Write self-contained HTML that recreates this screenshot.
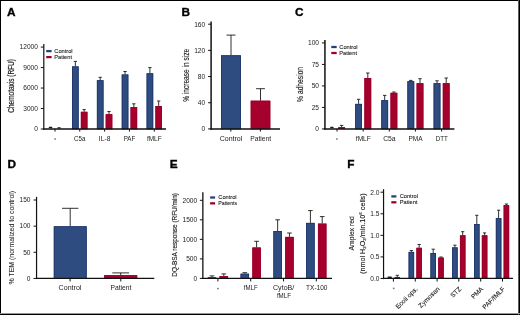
<!DOCTYPE html>
<html><head><meta charset="utf-8"><title>Figure</title>
<style>
html,body{margin:0;padding:0;background:#fff;}
body{width:520px;height:315px;overflow:hidden;}
.fig{position:relative;width:520px;height:315px;box-sizing:border-box;border:1px solid #000;background:#fff;}
svg{position:absolute;left:-1px;top:-1px;font-family:"Liberation Sans", sans-serif;will-change:transform;}
</style></head>
<body><div class="fig">
<svg width="520" height="315" viewBox="0 0 520 315">
<rect x="518" y="0" width="1" height="315" fill="#5e5e5e"/>
<rect x="0" y="313" width="520" height="1" fill="#969696"/>
<text x="6.95" y="15.6" font-size="11.8" font-weight="bold" fill="#000" stroke="#000" stroke-width="0.35">A</text>
<text x="181.6" y="15.5" font-size="11.8" font-weight="bold" fill="#000" stroke="#000" stroke-width="0.35">B</text>
<text x="295.1" y="15.5" font-size="11.8" font-weight="bold" fill="#000" stroke="#000" stroke-width="0.35">C</text>
<text x="7.4" y="167.8" font-size="11.8" font-weight="bold" fill="#000" stroke="#000" stroke-width="0.35">D</text>
<text x="169.85" y="167.7" font-size="11.8" font-weight="bold" fill="#000" stroke="#000" stroke-width="0.35">E</text>
<text x="347.3" y="167.7" font-size="11.8" font-weight="bold" fill="#000" stroke="#000" stroke-width="0.35">F</text>
<line x1="75.35" y1="66.4" x2="75.35" y2="61.4" stroke="#1a1a1a" stroke-width="0.9"/>
<line x1="73.7" y1="61.4" x2="77" y2="61.4" stroke="#1a1a1a" stroke-width="0.9"/>
<rect x="72.05" y="66.4" width="6.6" height="62.6" fill="#2f4c81"/>
<rect x="72.45" y="66.8" width="5.8" height="62.2" fill="none" stroke="#1c3468" stroke-width="0.8"/>
<line x1="84.15" y1="111.8" x2="84.15" y2="109.6" stroke="#1a1a1a" stroke-width="0.9"/>
<line x1="82.5" y1="109.6" x2="85.8" y2="109.6" stroke="#1a1a1a" stroke-width="0.9"/>
<rect x="80.85" y="111.8" width="6.6" height="17.2" fill="#a5012c"/>
<rect x="81.25" y="112.2" width="5.8" height="16.8" fill="none" stroke="#98002a" stroke-width="0.8"/>
<line x1="100.2" y1="80.25" x2="100.2" y2="77.3" stroke="#1a1a1a" stroke-width="0.9"/>
<line x1="98.55" y1="77.3" x2="101.85" y2="77.3" stroke="#1a1a1a" stroke-width="0.9"/>
<rect x="96.9" y="80.25" width="6.6" height="48.75" fill="#2f4c81"/>
<rect x="97.3" y="80.65" width="5.8" height="48.35" fill="none" stroke="#1c3468" stroke-width="0.8"/>
<line x1="109" y1="114.2" x2="109" y2="111.5" stroke="#1a1a1a" stroke-width="0.9"/>
<line x1="107.35" y1="111.5" x2="110.65" y2="111.5" stroke="#1a1a1a" stroke-width="0.9"/>
<rect x="105.7" y="114.2" width="6.6" height="14.8" fill="#a5012c"/>
<rect x="106.1" y="114.6" width="5.8" height="14.4" fill="none" stroke="#98002a" stroke-width="0.8"/>
<line x1="125.05" y1="74.5" x2="125.05" y2="71.5" stroke="#1a1a1a" stroke-width="0.9"/>
<line x1="123.4" y1="71.5" x2="126.7" y2="71.5" stroke="#1a1a1a" stroke-width="0.9"/>
<rect x="121.75" y="74.5" width="6.6" height="54.5" fill="#2f4c81"/>
<rect x="122.15" y="74.9" width="5.8" height="54.1" fill="none" stroke="#1c3468" stroke-width="0.8"/>
<line x1="133.85" y1="107.1" x2="133.85" y2="103.8" stroke="#1a1a1a" stroke-width="0.9"/>
<line x1="132.2" y1="103.8" x2="135.5" y2="103.8" stroke="#1a1a1a" stroke-width="0.9"/>
<rect x="130.55" y="107.1" width="6.6" height="21.9" fill="#a5012c"/>
<rect x="130.95" y="107.5" width="5.8" height="21.5" fill="none" stroke="#98002a" stroke-width="0.8"/>
<line x1="149.9" y1="73.3" x2="149.9" y2="67.6" stroke="#1a1a1a" stroke-width="0.9"/>
<line x1="148.25" y1="67.6" x2="151.55" y2="67.6" stroke="#1a1a1a" stroke-width="0.9"/>
<rect x="146.6" y="73.3" width="6.6" height="55.7" fill="#2f4c81"/>
<rect x="147" y="73.7" width="5.8" height="55.3" fill="none" stroke="#1c3468" stroke-width="0.8"/>
<line x1="158.7" y1="106" x2="158.7" y2="101" stroke="#1a1a1a" stroke-width="0.9"/>
<line x1="157.05" y1="101" x2="160.35" y2="101" stroke="#1a1a1a" stroke-width="0.9"/>
<rect x="155.4" y="106" width="6.6" height="23" fill="#a5012c"/>
<rect x="155.8" y="106.4" width="5.8" height="22.6" fill="none" stroke="#98002a" stroke-width="0.8"/>
<line x1="43.8" y1="44" x2="43.8" y2="129.78" stroke="#111" stroke-width="1.2"/>
<line x1="43.2" y1="129" x2="166" y2="129" stroke="#111" stroke-width="1.55"/>
<line x1="40.8" y1="129" x2="43.8" y2="129" stroke="#111" stroke-width="1"/>
<text x="37.9" y="131.3" font-size="6.6" text-anchor="end" font-weight="normal" fill="#222">0</text>
<line x1="40.8" y1="108.53" x2="43.8" y2="108.53" stroke="#111" stroke-width="1"/>
<text x="37.9" y="110.83" font-size="6.6" text-anchor="end" font-weight="normal" fill="#222">3000</text>
<line x1="40.8" y1="88.05" x2="43.8" y2="88.05" stroke="#111" stroke-width="1"/>
<text x="37.9" y="90.35" font-size="6.6" text-anchor="end" font-weight="normal" fill="#222">6000</text>
<line x1="40.8" y1="67.57" x2="43.8" y2="67.57" stroke="#111" stroke-width="1"/>
<text x="37.9" y="69.87" font-size="6.6" text-anchor="end" font-weight="normal" fill="#222">9000</text>
<line x1="40.8" y1="47.1" x2="43.8" y2="47.1" stroke="#111" stroke-width="1"/>
<text x="37.9" y="49.4" font-size="6.6" text-anchor="end" font-weight="normal" fill="#222">12000</text>
<line x1="55" y1="129" x2="55" y2="131.6" stroke="#111" stroke-width="1"/>
<line x1="79.75" y1="129" x2="79.75" y2="131.6" stroke="#111" stroke-width="1"/>
<line x1="104.6" y1="129" x2="104.6" y2="131.6" stroke="#111" stroke-width="1"/>
<line x1="129.45" y1="129" x2="129.45" y2="131.6" stroke="#111" stroke-width="1"/>
<line x1="154.3" y1="129" x2="154.3" y2="131.6" stroke="#111" stroke-width="1"/>
<rect x="46.2" y="49.98" width="5.4" height="2.25" fill="#24407a"/>
<rect x="46.2" y="55.98" width="5.4" height="2.25" fill="#9c0029"/>
<text x="54.3" y="53" font-size="5.7" text-anchor="start" font-weight="normal" fill="#222" stroke="#222" stroke-width="0.1">Control</text>
<text x="54.3" y="59" font-size="5.7" text-anchor="start" font-weight="normal" fill="#222" stroke="#222" stroke-width="0.1">Patient</text>
<rect x="48.75" y="126.85" width="3.6" height="1.5" rx="0.75" fill="#151515"/>
<rect x="57.4" y="127.3" width="3.4" height="1.2" rx="0.6" fill="#151515"/>
<text x="79.75" y="141" font-size="6.9" text-anchor="middle" font-weight="normal" fill="#222" textLength="11.4" lengthAdjust="spacingAndGlyphs">C5a</text>
<text x="104.6" y="141" font-size="6.9" text-anchor="middle" font-weight="normal" fill="#222" textLength="11.5" lengthAdjust="spacingAndGlyphs">IL-8</text>
<text x="129.45" y="141" font-size="6.9" text-anchor="middle" font-weight="normal" fill="#222" textLength="11.6" lengthAdjust="spacingAndGlyphs">PAF</text>
<text x="154.3" y="141" font-size="6.9" text-anchor="middle" font-weight="normal" fill="#222" textLength="14.8" lengthAdjust="spacingAndGlyphs">fMLF</text>
<rect x="54.3" y="138.25" width="1.6" height="1.5" fill="#777"/>
<text x="0" y="0" font-size="8.2" text-anchor="middle" fill="#222" stroke="#222" stroke-width="0.2" transform="translate(14.2,85.9) rotate(-90)" textLength="53.6" lengthAdjust="spacingAndGlyphs">Chemotaxis (RFU)</text>
<line x1="231" y1="55.3" x2="231" y2="35.1" stroke="#1a1a1a" stroke-width="0.9"/>
<line x1="226.5" y1="35.1" x2="235.5" y2="35.1" stroke="#1a1a1a" stroke-width="0.9"/>
<rect x="221" y="55.3" width="20" height="73.6" fill="#2f4c81"/>
<rect x="221.4" y="55.7" width="19.2" height="73.2" fill="none" stroke="#1c3468" stroke-width="0.8"/>
<line x1="260.5" y1="100.7" x2="260.5" y2="88.7" stroke="#1a1a1a" stroke-width="0.9"/>
<line x1="256.1" y1="88.7" x2="264.9" y2="88.7" stroke="#1a1a1a" stroke-width="0.9"/>
<rect x="250.7" y="100.7" width="19.6" height="28.2" fill="#a5012c"/>
<rect x="251.1" y="101.1" width="18.8" height="27.8" fill="none" stroke="#98002a" stroke-width="0.8"/>
<line x1="211.1" y1="21.5" x2="211.1" y2="129.65" stroke="#111" stroke-width="1.5"/>
<line x1="210.35" y1="128.9" x2="280" y2="128.9" stroke="#111" stroke-width="1.5"/>
<line x1="208.1" y1="128.9" x2="211.1" y2="128.9" stroke="#111" stroke-width="1"/>
<text x="205.2" y="131.2" font-size="6.6" text-anchor="end" font-weight="normal" fill="#222">0</text>
<line x1="208.1" y1="102.73" x2="211.1" y2="102.73" stroke="#111" stroke-width="1"/>
<text x="205.2" y="105.03" font-size="6.6" text-anchor="end" font-weight="normal" fill="#222">40</text>
<line x1="208.1" y1="76.55" x2="211.1" y2="76.55" stroke="#111" stroke-width="1"/>
<text x="205.2" y="78.85" font-size="6.6" text-anchor="end" font-weight="normal" fill="#222">80</text>
<line x1="208.1" y1="50.38" x2="211.1" y2="50.38" stroke="#111" stroke-width="1"/>
<text x="205.2" y="52.67" font-size="6.6" text-anchor="end" font-weight="normal" fill="#222">120</text>
<line x1="208.1" y1="24.2" x2="211.1" y2="24.2" stroke="#111" stroke-width="1"/>
<text x="205.2" y="26.5" font-size="6.6" text-anchor="end" font-weight="normal" fill="#222">160</text>
<line x1="230.8" y1="128.9" x2="230.8" y2="131.5" stroke="#111" stroke-width="1"/>
<line x1="260.4" y1="128.9" x2="260.4" y2="131.5" stroke="#111" stroke-width="1"/>
<text x="231" y="140.5" font-size="7" text-anchor="middle" font-weight="normal" fill="#222" textLength="22.7" lengthAdjust="spacingAndGlyphs">Control</text>
<text x="260.75" y="140.5" font-size="7" text-anchor="middle" font-weight="normal" fill="#222" textLength="20.9" lengthAdjust="spacingAndGlyphs">Patient</text>
<text x="0" y="0" font-size="8.3" text-anchor="middle" fill="#222" stroke="#222" stroke-width="0.15" transform="translate(189,75.35) rotate(-90)" textLength="52.9" lengthAdjust="spacingAndGlyphs">% increase in size</text>
<line x1="341.6" y1="127" x2="341.6" y2="125.4" stroke="#1a1a1a" stroke-width="0.9"/>
<line x1="339.9" y1="125.4" x2="343.3" y2="125.4" stroke="#1a1a1a" stroke-width="0.9"/>
<rect x="338.2" y="127" width="6.8" height="1.93" fill="#a5012c"/>
<line x1="358.6" y1="103.9" x2="358.6" y2="99.3" stroke="#1a1a1a" stroke-width="0.9"/>
<line x1="356.9" y1="99.3" x2="360.3" y2="99.3" stroke="#1a1a1a" stroke-width="0.9"/>
<rect x="355.2" y="103.9" width="6.8" height="25.03" fill="#2f4c81"/>
<rect x="355.6" y="104.3" width="6" height="24.63" fill="none" stroke="#1c3468" stroke-width="0.8"/>
<line x1="367.8" y1="78" x2="367.8" y2="73" stroke="#1a1a1a" stroke-width="0.9"/>
<line x1="366.1" y1="73" x2="369.5" y2="73" stroke="#1a1a1a" stroke-width="0.9"/>
<rect x="364.4" y="78" width="6.8" height="50.93" fill="#a5012c"/>
<rect x="364.8" y="78.4" width="6" height="50.53" fill="none" stroke="#98002a" stroke-width="0.8"/>
<line x1="384.7" y1="100.2" x2="384.7" y2="95.4" stroke="#1a1a1a" stroke-width="0.9"/>
<line x1="383" y1="95.4" x2="386.4" y2="95.4" stroke="#1a1a1a" stroke-width="0.9"/>
<rect x="381.3" y="100.2" width="6.8" height="28.73" fill="#2f4c81"/>
<rect x="381.7" y="100.6" width="6" height="28.33" fill="none" stroke="#1c3468" stroke-width="0.8"/>
<line x1="393.9" y1="92.8" x2="393.9" y2="92" stroke="#1a1a1a" stroke-width="0.9"/>
<line x1="392.2" y1="92" x2="395.6" y2="92" stroke="#1a1a1a" stroke-width="0.9"/>
<rect x="390.5" y="92.8" width="6.8" height="36.13" fill="#a5012c"/>
<rect x="390.9" y="93.2" width="6" height="35.73" fill="none" stroke="#98002a" stroke-width="0.8"/>
<line x1="410.8" y1="81.2" x2="410.8" y2="80.4" stroke="#1a1a1a" stroke-width="0.9"/>
<line x1="409.1" y1="80.4" x2="412.5" y2="80.4" stroke="#1a1a1a" stroke-width="0.9"/>
<rect x="407.4" y="81.2" width="6.8" height="47.73" fill="#2f4c81"/>
<rect x="407.8" y="81.6" width="6" height="47.33" fill="none" stroke="#1c3468" stroke-width="0.8"/>
<line x1="420" y1="83.2" x2="420" y2="78.7" stroke="#1a1a1a" stroke-width="0.9"/>
<line x1="418.3" y1="78.7" x2="421.7" y2="78.7" stroke="#1a1a1a" stroke-width="0.9"/>
<rect x="416.6" y="83.2" width="6.8" height="45.73" fill="#a5012c"/>
<rect x="417" y="83.6" width="6" height="45.33" fill="none" stroke="#98002a" stroke-width="0.8"/>
<line x1="437" y1="83.2" x2="437" y2="80.8" stroke="#1a1a1a" stroke-width="0.9"/>
<line x1="435.3" y1="80.8" x2="438.7" y2="80.8" stroke="#1a1a1a" stroke-width="0.9"/>
<rect x="433.6" y="83.2" width="6.8" height="45.73" fill="#2f4c81"/>
<rect x="434" y="83.6" width="6" height="45.33" fill="none" stroke="#1c3468" stroke-width="0.8"/>
<line x1="446.2" y1="83.2" x2="446.2" y2="78" stroke="#1a1a1a" stroke-width="0.9"/>
<line x1="444.5" y1="78" x2="447.9" y2="78" stroke="#1a1a1a" stroke-width="0.9"/>
<rect x="442.8" y="83.2" width="6.8" height="45.73" fill="#a5012c"/>
<rect x="443.2" y="83.6" width="6" height="45.33" fill="none" stroke="#98002a" stroke-width="0.8"/>
<line x1="324.93" y1="40.1" x2="324.93" y2="129.68" stroke="#111" stroke-width="1.5"/>
<line x1="324.18" y1="128.93" x2="454.4" y2="128.93" stroke="#111" stroke-width="1.5"/>
<line x1="321.93" y1="128.93" x2="324.93" y2="128.93" stroke="#111" stroke-width="1"/>
<text x="319" y="131.23" font-size="6.6" text-anchor="end" font-weight="normal" fill="#222">0</text>
<line x1="321.93" y1="107.42" x2="324.93" y2="107.42" stroke="#111" stroke-width="1"/>
<text x="319" y="109.72" font-size="6.6" text-anchor="end" font-weight="normal" fill="#222">25</text>
<line x1="321.93" y1="85.92" x2="324.93" y2="85.92" stroke="#111" stroke-width="1"/>
<text x="319" y="88.22" font-size="6.6" text-anchor="end" font-weight="normal" fill="#222">50</text>
<line x1="321.93" y1="64.41" x2="324.93" y2="64.41" stroke="#111" stroke-width="1"/>
<text x="319" y="66.71" font-size="6.6" text-anchor="end" font-weight="normal" fill="#222">75</text>
<line x1="321.93" y1="42.9" x2="324.93" y2="42.9" stroke="#111" stroke-width="1"/>
<text x="319" y="45.2" font-size="6.6" text-anchor="end" font-weight="normal" fill="#222">100</text>
<line x1="337" y1="128.93" x2="337" y2="131.53" stroke="#111" stroke-width="1"/>
<line x1="363.2" y1="128.93" x2="363.2" y2="131.53" stroke="#111" stroke-width="1"/>
<line x1="389.3" y1="128.93" x2="389.3" y2="131.53" stroke="#111" stroke-width="1"/>
<line x1="415.4" y1="128.93" x2="415.4" y2="131.53" stroke="#111" stroke-width="1"/>
<line x1="441.6" y1="128.93" x2="441.6" y2="131.53" stroke="#111" stroke-width="1"/>
<rect x="331.3" y="45.88" width="5.4" height="2.25" fill="#24407a"/>
<rect x="331.3" y="51.88" width="5.4" height="2.25" fill="#9c0029"/>
<text x="339.3" y="48.9" font-size="5.7" text-anchor="start" font-weight="normal" fill="#222" stroke="#222" stroke-width="0.1">Control</text>
<text x="339.3" y="54.9" font-size="5.7" text-anchor="start" font-weight="normal" fill="#222" stroke="#222" stroke-width="0.1">Patient</text>
<rect x="330.15" y="126.85" width="3.5" height="1.5" rx="0.75" fill="#151515"/>
<text x="363.3" y="141.1" font-size="6.9" text-anchor="middle" font-weight="normal" fill="#222" textLength="15" lengthAdjust="spacingAndGlyphs">fMLF</text>
<text x="389.4" y="141.1" font-size="6.9" text-anchor="middle" font-weight="normal" fill="#222" textLength="12.5" lengthAdjust="spacingAndGlyphs">C5a</text>
<text x="415.5" y="141.1" font-size="6.9" text-anchor="middle" font-weight="normal" fill="#222" textLength="14.2" lengthAdjust="spacingAndGlyphs">PMA</text>
<text x="441.7" y="141.1" font-size="6.9" text-anchor="middle" font-weight="normal" fill="#222" textLength="12.1" lengthAdjust="spacingAndGlyphs">DTT</text>
<rect x="336.1" y="138.25" width="1.6" height="1.5" fill="#777"/>
<text x="0" y="0" font-size="9.2" text-anchor="middle" fill="#222" stroke="#222" stroke-width="0.18" transform="translate(302.6,84.4) rotate(-90)" textLength="35" lengthAdjust="spacingAndGlyphs">% adhesion</text>
<line x1="70.2" y1="226.3" x2="70.2" y2="208.3" stroke="#1a1a1a" stroke-width="0.9"/>
<line x1="62.05" y1="208.3" x2="78.35" y2="208.3" stroke="#1a1a1a" stroke-width="0.9"/>
<rect x="53.8" y="226.3" width="32.9" height="52.15" fill="#2f4c81"/>
<rect x="54.2" y="226.7" width="32.1" height="51.75" fill="none" stroke="#1c3468" stroke-width="0.8"/>
<line x1="120.7" y1="275.2" x2="120.7" y2="272.9" stroke="#1a1a1a" stroke-width="0.9"/>
<line x1="112.3" y1="272.9" x2="129.1" y2="272.9" stroke="#1a1a1a" stroke-width="0.9"/>
<rect x="104.2" y="275.2" width="33" height="3.25" fill="#a5012c"/>
<rect x="104.6" y="275.6" width="32.2" height="2.85" fill="none" stroke="#98002a" stroke-width="0.8"/>
<line x1="36.55" y1="196.9" x2="36.55" y2="279.07" stroke="#111" stroke-width="1.2"/>
<line x1="35.95" y1="278.45" x2="154.3" y2="278.45" stroke="#111" stroke-width="1.25"/>
<line x1="33.55" y1="278.45" x2="36.55" y2="278.45" stroke="#111" stroke-width="1"/>
<text x="30.5" y="280.75" font-size="6.6" text-anchor="end" font-weight="normal" fill="#222">0</text>
<line x1="33.55" y1="252.3" x2="36.55" y2="252.3" stroke="#111" stroke-width="1"/>
<text x="30.5" y="254.6" font-size="6.6" text-anchor="end" font-weight="normal" fill="#222">50</text>
<line x1="33.55" y1="226.15" x2="36.55" y2="226.15" stroke="#111" stroke-width="1"/>
<text x="30.5" y="228.45" font-size="6.6" text-anchor="end" font-weight="normal" fill="#222">100</text>
<line x1="33.55" y1="200" x2="36.55" y2="200" stroke="#111" stroke-width="1"/>
<text x="30.5" y="202.3" font-size="6.6" text-anchor="end" font-weight="normal" fill="#222">150</text>
<line x1="70.1" y1="278.45" x2="70.1" y2="281.45" stroke="#111" stroke-width="1"/>
<line x1="120.8" y1="278.45" x2="120.8" y2="281.45" stroke="#111" stroke-width="1"/>
<text x="70" y="290.2" font-size="7" text-anchor="middle" font-weight="normal" fill="#222" textLength="22.8" lengthAdjust="spacingAndGlyphs">Control</text>
<text x="120.95" y="290.2" font-size="7" text-anchor="middle" font-weight="normal" fill="#222" textLength="20.9" lengthAdjust="spacingAndGlyphs">Patient</text>
<text x="0" y="0" font-size="7.6" text-anchor="middle" fill="#222" stroke="#222" stroke-width="0.05" transform="translate(14.1,237.7) rotate(-90)" textLength="93.6" lengthAdjust="spacingAndGlyphs">% TEM (normalized to control)</text>
<line x1="212" y1="277" x2="212" y2="275.9" stroke="#1a1a1a" stroke-width="0.9"/>
<line x1="209.7" y1="275.9" x2="214.3" y2="275.9" stroke="#1a1a1a" stroke-width="0.9"/>
<rect x="207.75" y="277" width="8.5" height="1.4" fill="#2f4c81"/>
<line x1="223.8" y1="276.1" x2="223.8" y2="273.9" stroke="#1a1a1a" stroke-width="0.9"/>
<line x1="221.5" y1="273.9" x2="226.1" y2="273.9" stroke="#1a1a1a" stroke-width="0.9"/>
<rect x="219.55" y="276.1" width="8.5" height="2.3" fill="#a5012c"/>
<rect x="219.95" y="276.5" width="7.7" height="1.9" fill="none" stroke="#98002a" stroke-width="0.8"/>
<line x1="244.8" y1="273.7" x2="244.8" y2="272.7" stroke="#1a1a1a" stroke-width="0.9"/>
<line x1="242.5" y1="272.7" x2="247.1" y2="272.7" stroke="#1a1a1a" stroke-width="0.9"/>
<rect x="240.55" y="273.7" width="8.5" height="4.7" fill="#2f4c81"/>
<rect x="240.95" y="274.1" width="7.7" height="4.3" fill="none" stroke="#1c3468" stroke-width="0.8"/>
<line x1="256.6" y1="247.5" x2="256.6" y2="241.3" stroke="#1a1a1a" stroke-width="0.9"/>
<line x1="254.3" y1="241.3" x2="258.9" y2="241.3" stroke="#1a1a1a" stroke-width="0.9"/>
<rect x="252.35" y="247.5" width="8.5" height="30.9" fill="#a5012c"/>
<rect x="252.75" y="247.9" width="7.7" height="30.5" fill="none" stroke="#98002a" stroke-width="0.8"/>
<line x1="277.65" y1="231" x2="277.65" y2="219.8" stroke="#1a1a1a" stroke-width="0.9"/>
<line x1="275.35" y1="219.8" x2="279.95" y2="219.8" stroke="#1a1a1a" stroke-width="0.9"/>
<rect x="273.4" y="231" width="8.5" height="47.4" fill="#2f4c81"/>
<rect x="273.8" y="231.4" width="7.7" height="47" fill="none" stroke="#1c3468" stroke-width="0.8"/>
<line x1="289.45" y1="236.9" x2="289.45" y2="233" stroke="#1a1a1a" stroke-width="0.9"/>
<line x1="287.15" y1="233" x2="291.75" y2="233" stroke="#1a1a1a" stroke-width="0.9"/>
<rect x="285.2" y="236.9" width="8.5" height="41.5" fill="#a5012c"/>
<rect x="285.6" y="237.3" width="7.7" height="41.1" fill="none" stroke="#98002a" stroke-width="0.8"/>
<line x1="310.4" y1="222.9" x2="310.4" y2="210.6" stroke="#1a1a1a" stroke-width="0.9"/>
<line x1="308.1" y1="210.6" x2="312.7" y2="210.6" stroke="#1a1a1a" stroke-width="0.9"/>
<rect x="306.15" y="222.9" width="8.5" height="55.5" fill="#2f4c81"/>
<rect x="306.55" y="223.3" width="7.7" height="55.1" fill="none" stroke="#1c3468" stroke-width="0.8"/>
<line x1="322.2" y1="223.6" x2="322.2" y2="216.6" stroke="#1a1a1a" stroke-width="0.9"/>
<line x1="319.9" y1="216.6" x2="324.5" y2="216.6" stroke="#1a1a1a" stroke-width="0.9"/>
<rect x="317.95" y="223.6" width="8.5" height="54.8" fill="#a5012c"/>
<rect x="318.35" y="224" width="7.7" height="54.4" fill="none" stroke="#98002a" stroke-width="0.8"/>
<line x1="202.85" y1="192.3" x2="202.85" y2="279" stroke="#111" stroke-width="1.3"/>
<line x1="202.2" y1="278.4" x2="332" y2="278.4" stroke="#111" stroke-width="1.2"/>
<line x1="199.85" y1="278.4" x2="202.85" y2="278.4" stroke="#111" stroke-width="1"/>
<text x="197.2" y="280.9" font-size="6.6" text-anchor="end" font-weight="normal" fill="#222">0</text>
<line x1="199.85" y1="258.88" x2="202.85" y2="258.88" stroke="#111" stroke-width="1"/>
<text x="197.2" y="261.38" font-size="6.6" text-anchor="end" font-weight="normal" fill="#222">500</text>
<line x1="199.85" y1="239.35" x2="202.85" y2="239.35" stroke="#111" stroke-width="1"/>
<text x="197.2" y="241.85" font-size="6.6" text-anchor="end" font-weight="normal" fill="#222">1000</text>
<line x1="199.85" y1="219.82" x2="202.85" y2="219.82" stroke="#111" stroke-width="1"/>
<text x="197.2" y="222.32" font-size="6.6" text-anchor="end" font-weight="normal" fill="#222">1500</text>
<line x1="199.85" y1="200.3" x2="202.85" y2="200.3" stroke="#111" stroke-width="1"/>
<text x="197.2" y="202.8" font-size="6.6" text-anchor="end" font-weight="normal" fill="#222">2000</text>
<line x1="217.9" y1="278.4" x2="217.9" y2="281.4" stroke="#111" stroke-width="1"/>
<line x1="250.7" y1="278.4" x2="250.7" y2="281.4" stroke="#111" stroke-width="1"/>
<line x1="283.55" y1="278.4" x2="283.55" y2="281.4" stroke="#111" stroke-width="1"/>
<line x1="316.3" y1="278.4" x2="316.3" y2="281.4" stroke="#111" stroke-width="1"/>
<rect x="210.1" y="196.38" width="5" height="2.25" fill="#24407a"/>
<rect x="210.1" y="202.22" width="5" height="2.25" fill="#9c0029"/>
<text x="218.3" y="199.4" font-size="5.7" text-anchor="start" font-weight="normal" fill="#222" stroke="#222" stroke-width="0.1">Control</text>
<text x="218.3" y="205.25" font-size="5.7" text-anchor="start" font-weight="normal" fill="#222" stroke="#222" stroke-width="0.1" textLength="18.9" lengthAdjust="spacingAndGlyphs">Patients</text>
<rect x="217.1" y="287.85" width="1.6" height="1.5" fill="#777"/>
<text x="250.75" y="290.1" font-size="6.9" text-anchor="middle" font-weight="normal" fill="#222" textLength="13.9" lengthAdjust="spacingAndGlyphs">fMLF</text>
<text x="283.65" y="290" font-size="6.9" text-anchor="middle" font-weight="normal" fill="#222" textLength="21.3" lengthAdjust="spacingAndGlyphs">CytoB/</text>
<text x="283.95" y="297.6" font-size="6.9" text-anchor="middle" font-weight="normal" fill="#222" textLength="14.1" lengthAdjust="spacingAndGlyphs">fMLF</text>
<text x="316.75" y="290" font-size="6.9" text-anchor="middle" font-weight="normal" fill="#222" textLength="21.3" lengthAdjust="spacingAndGlyphs">TX-100</text>
<text x="0" y="0" font-size="7.4" text-anchor="middle" fill="#222" stroke="#222" stroke-width="0.15" transform="translate(177,234.9) rotate(-90)" textLength="83.6" lengthAdjust="spacingAndGlyphs">DQ-BSA response (RFU/min)</text>
<line x1="397.3" y1="276.9" x2="397.3" y2="275.3" stroke="#1a1a1a" stroke-width="0.9"/>
<line x1="395.7" y1="275.3" x2="398.9" y2="275.3" stroke="#1a1a1a" stroke-width="0.9"/>
<rect x="394.55" y="276.9" width="5.5" height="1.58" fill="#a5012c"/>
<line x1="411.35" y1="251.9" x2="411.35" y2="250.5" stroke="#1a1a1a" stroke-width="0.9"/>
<line x1="409.75" y1="250.5" x2="412.95" y2="250.5" stroke="#1a1a1a" stroke-width="0.9"/>
<rect x="408.6" y="251.9" width="5.5" height="26.58" fill="#2f4c81"/>
<rect x="409" y="252.3" width="4.7" height="26.18" fill="none" stroke="#1c3468" stroke-width="0.8"/>
<line x1="419.15" y1="247.8" x2="419.15" y2="244.5" stroke="#1a1a1a" stroke-width="0.9"/>
<line x1="417.55" y1="244.5" x2="420.75" y2="244.5" stroke="#1a1a1a" stroke-width="0.9"/>
<rect x="416.4" y="247.8" width="5.5" height="30.68" fill="#a5012c"/>
<rect x="416.8" y="248.2" width="4.7" height="30.28" fill="none" stroke="#98002a" stroke-width="0.8"/>
<line x1="433.2" y1="253" x2="433.2" y2="249.2" stroke="#1a1a1a" stroke-width="0.9"/>
<line x1="431.6" y1="249.2" x2="434.8" y2="249.2" stroke="#1a1a1a" stroke-width="0.9"/>
<rect x="430.45" y="253" width="5.5" height="25.48" fill="#2f4c81"/>
<rect x="430.85" y="253.4" width="4.7" height="25.08" fill="none" stroke="#1c3468" stroke-width="0.8"/>
<line x1="441" y1="257.6" x2="441" y2="257" stroke="#1a1a1a" stroke-width="0.9"/>
<line x1="439.4" y1="257" x2="442.6" y2="257" stroke="#1a1a1a" stroke-width="0.9"/>
<rect x="438.25" y="257.6" width="5.5" height="20.88" fill="#a5012c"/>
<rect x="438.65" y="258" width="4.7" height="20.48" fill="none" stroke="#98002a" stroke-width="0.8"/>
<line x1="454.9" y1="247.4" x2="454.9" y2="245.2" stroke="#1a1a1a" stroke-width="0.9"/>
<line x1="453.3" y1="245.2" x2="456.5" y2="245.2" stroke="#1a1a1a" stroke-width="0.9"/>
<rect x="452.15" y="247.4" width="5.5" height="31.08" fill="#2f4c81"/>
<rect x="452.55" y="247.8" width="4.7" height="30.68" fill="none" stroke="#1c3468" stroke-width="0.8"/>
<line x1="462.7" y1="235.3" x2="462.7" y2="231.7" stroke="#1a1a1a" stroke-width="0.9"/>
<line x1="461.1" y1="231.7" x2="464.3" y2="231.7" stroke="#1a1a1a" stroke-width="0.9"/>
<rect x="459.95" y="235.3" width="5.5" height="43.18" fill="#a5012c"/>
<rect x="460.35" y="235.7" width="4.7" height="42.78" fill="none" stroke="#98002a" stroke-width="0.8"/>
<line x1="476.8" y1="224" x2="476.8" y2="215.3" stroke="#1a1a1a" stroke-width="0.9"/>
<line x1="475.2" y1="215.3" x2="478.4" y2="215.3" stroke="#1a1a1a" stroke-width="0.9"/>
<rect x="474.05" y="224" width="5.5" height="54.48" fill="#2f4c81"/>
<rect x="474.45" y="224.4" width="4.7" height="54.08" fill="none" stroke="#1c3468" stroke-width="0.8"/>
<line x1="484.6" y1="235.3" x2="484.6" y2="232.9" stroke="#1a1a1a" stroke-width="0.9"/>
<line x1="483" y1="232.9" x2="486.2" y2="232.9" stroke="#1a1a1a" stroke-width="0.9"/>
<rect x="481.85" y="235.3" width="5.5" height="43.18" fill="#a5012c"/>
<rect x="482.25" y="235.7" width="4.7" height="42.78" fill="none" stroke="#98002a" stroke-width="0.8"/>
<line x1="498.6" y1="218.1" x2="498.6" y2="210.2" stroke="#1a1a1a" stroke-width="0.9"/>
<line x1="497" y1="210.2" x2="500.2" y2="210.2" stroke="#1a1a1a" stroke-width="0.9"/>
<rect x="495.85" y="218.1" width="5.5" height="60.38" fill="#2f4c81"/>
<rect x="496.25" y="218.5" width="4.7" height="59.98" fill="none" stroke="#1c3468" stroke-width="0.8"/>
<line x1="506.4" y1="205.1" x2="506.4" y2="204" stroke="#1a1a1a" stroke-width="0.9"/>
<line x1="504.8" y1="204" x2="508" y2="204" stroke="#1a1a1a" stroke-width="0.9"/>
<rect x="503.65" y="205.1" width="5.5" height="73.38" fill="#a5012c"/>
<rect x="504.05" y="205.5" width="4.7" height="72.98" fill="none" stroke="#98002a" stroke-width="0.8"/>
<line x1="383.55" y1="189.2" x2="383.55" y2="279.11" stroke="#111" stroke-width="1.2"/>
<line x1="382.95" y1="278.48" x2="513" y2="278.48" stroke="#111" stroke-width="1.25"/>
<line x1="380.55" y1="278.48" x2="383.55" y2="278.48" stroke="#111" stroke-width="1"/>
<text x="379.4" y="280.78" font-size="6.6" text-anchor="end" font-weight="normal" fill="#222">0.0</text>
<line x1="380.55" y1="256.91" x2="383.55" y2="256.91" stroke="#111" stroke-width="1"/>
<text x="379.4" y="259.21" font-size="6.6" text-anchor="end" font-weight="normal" fill="#222">0.5</text>
<line x1="380.55" y1="235.34" x2="383.55" y2="235.34" stroke="#111" stroke-width="1"/>
<text x="379.4" y="237.64" font-size="6.6" text-anchor="end" font-weight="normal" fill="#222">1.0</text>
<line x1="380.55" y1="213.77" x2="383.55" y2="213.77" stroke="#111" stroke-width="1"/>
<text x="379.4" y="216.07" font-size="6.6" text-anchor="end" font-weight="normal" fill="#222">1.5</text>
<line x1="380.55" y1="192.2" x2="383.55" y2="192.2" stroke="#111" stroke-width="1"/>
<text x="379.4" y="194.5" font-size="6.6" text-anchor="end" font-weight="normal" fill="#222">2.0</text>
<line x1="393.4" y1="278.48" x2="393.4" y2="281.58" stroke="#111" stroke-width="1"/>
<line x1="415.25" y1="278.48" x2="415.25" y2="281.58" stroke="#111" stroke-width="1"/>
<line x1="437.1" y1="278.48" x2="437.1" y2="281.58" stroke="#111" stroke-width="1"/>
<line x1="458.8" y1="278.48" x2="458.8" y2="281.58" stroke="#111" stroke-width="1"/>
<line x1="480.7" y1="278.48" x2="480.7" y2="281.58" stroke="#111" stroke-width="1"/>
<line x1="502.5" y1="278.48" x2="502.5" y2="281.58" stroke="#111" stroke-width="1"/>
<rect x="391.3" y="195.28" width="5.1" height="2.25" fill="#24407a"/>
<rect x="391.3" y="201.18" width="5.1" height="2.25" fill="#9c0029"/>
<text x="399.7" y="198.3" font-size="5.7" text-anchor="start" font-weight="normal" fill="#222" stroke="#222" stroke-width="0.1">Control</text>
<text x="399.7" y="204.2" font-size="5.7" text-anchor="start" font-weight="normal" fill="#222" stroke="#222" stroke-width="0.1">Patient</text>
<rect x="387.5" y="276.6" width="4.4" height="1.6" rx="0.8" fill="#101c40"/>
<rect x="392.9" y="287.65" width="1.6" height="1.5" fill="#777"/>
<text x="0" y="0" font-size="6.5" text-anchor="end" fill="#222" stroke="#222" stroke-width="0.12" transform="translate(418.15,289.4) rotate(-45)">Ecoli ops.</text>
<text x="0" y="0" font-size="6.5" text-anchor="end" fill="#222" stroke="#222" stroke-width="0.12" transform="translate(440,289.4) rotate(-45)">Zymosan</text>
<text x="0" y="0" font-size="6.5" text-anchor="end" fill="#222" stroke="#222" stroke-width="0.12" transform="translate(461.7,289.4) rotate(-45)">STZ</text>
<text x="0" y="0" font-size="6.5" text-anchor="end" fill="#222" stroke="#222" stroke-width="0.12" transform="translate(483.6,289.4) rotate(-45)">PMA</text>
<text x="0" y="0" font-size="6.5" text-anchor="end" fill="#222" stroke="#222" stroke-width="0.12" transform="translate(505.4,289.4) rotate(-45)">PAF/fMLF</text>
<text x="0" y="0" font-size="8" text-anchor="middle" fill="#222" stroke="#222" stroke-width="0.1" transform="translate(353.5,233.3) rotate(-90)" textLength="34.2" lengthAdjust="spacingAndGlyphs">Amplex red</text>
<text x="0" y="0" font-size="7.2" text-anchor="middle" fill="#222" stroke="#222" stroke-width="0.15" transform="translate(364.5,233.7) rotate(-90)" textLength="80.6" lengthAdjust="spacingAndGlyphs">(nmol H<tspan font-size="4.4" dy="1.5">2</tspan><tspan dy="-1.5">O</tspan><tspan font-size="4.4" dy="1.5">2</tspan><tspan dy="-1.5">/min.10</tspan><tspan font-size="4.4" dy="-2.4">6</tspan><tspan dy="2.4"> cells)</tspan></text>
</svg>
</div></body></html>
